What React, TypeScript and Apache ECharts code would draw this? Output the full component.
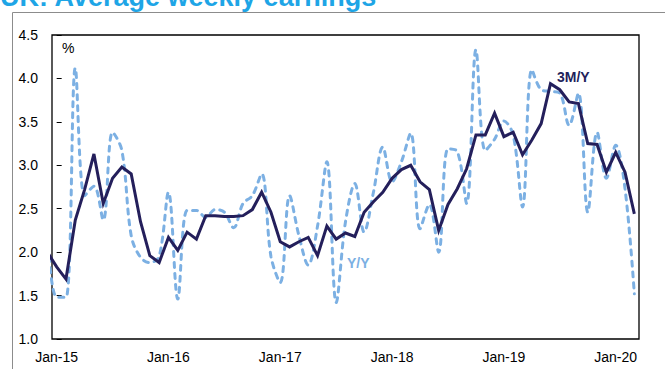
import React, { useEffect, useRef } from "react";
import * as echarts from "echarts";

// Month index: 0 = Jan-15, -1 = Dec-14, 62 = Mar-20
const startMonth = -1;
const threeMonthYoY = [
  2.0, 1.83, 1.69, 2.37, 2.72, 3.13, 2.56, 2.85, 2.98, 2.9, 2.35, 1.96, 1.88,
  2.17, 2.02, 2.23, 2.15, 2.42, 2.42, 2.41, 2.41, 2.42, 2.49, 2.69, 2.46, 2.12,
  2.06, 2.12, 2.17, 1.96, 2.3, 2.15, 2.22, 2.18, 2.46, 2.58, 2.69, 2.85, 2.95,
  3.0, 2.81, 2.72, 2.25, 2.55, 2.73, 2.96, 3.35, 3.35, 3.6, 3.33, 3.38, 3.12,
  3.29, 3.48, 3.94, 3.87, 3.73, 3.71, 3.25, 3.24, 2.92, 3.15, 2.92, 2.44,
];
const yoy = [
  2.2, 1.48, 1.48, 4.12, 2.65, 2.76, 2.37, 3.38, 3.17, 2.19, 1.94, 1.88, 1.95,
  2.69, 1.46, 2.48, 2.48, 2.4, 2.49, 2.46, 2.28, 2.56, 2.65, 2.9, 1.95, 1.65,
  2.65, 2.19, 1.85, 2.3, 3.04, 1.42, 2.35, 2.79, 2.23, 2.69, 3.21, 2.81, 3.04,
  3.37, 2.27, 2.55, 2.0, 3.19, 3.16, 2.56, 4.33, 3.17, 3.3, 3.51, 3.35, 2.52,
  4.1, 3.87, 3.85, 3.83, 3.46, 3.83, 2.46, 3.38, 2.85, 3.23, 2.73, 1.52,
];
const xTickMonths = [0, 12, 24, 36, 48, 60];
const xTickLabels = ["Jan-15", "Jan-16", "Jan-17", "Jan-18", "Jan-19", "Jan-20"];

const FONT = "'Liberation Sans', Arial, sans-serif";
const NAVY = "#241f5b";
const LIGHT = "#7cb0e3";

export default function App() {
  const ref = useRef<HTMLDivElement>(null);
  useEffect(() => {
    if (!ref.current) return;
    const chart = echarts.init(ref.current, null, { renderer: "svg" });
    const toPairs = (arr: number[]) => arr.map((v, i) => [startMonth + i, v]);
    chart.setOption({
      animation: false,
      backgroundColor: "#fff",
      grid: {
        left: 52,
        top: 35,
        right: 26,
        bottom: 30,
        show: true,
        borderColor: "#000",
        borderWidth: 1.3,
        backgroundColor: "transparent",
      },
      xAxis: {
        type: "value",
        min: -0.5,
        max: 62.5,
        axisLine: { show: false },
        axisTick: { show: false },
        splitLine: { show: false },
        axisLabel: {
          customValues: xTickMonths,
          formatter: (v: number) => {
            const i = xTickMonths.indexOf(Math.round(v));
            return i >= 0 ? xTickLabels[i] : "";
          },
          fontFamily: FONT,
          fontSize: 14,
          color: "#000",
          margin: 11,
        },
      },
      yAxis: {
        type: "value",
        min: 1,
        max: 4.5,
        interval: 0.5,
        axisLine: { show: false },
        axisTick: { show: true, inside: true, length: 5, lineStyle: { color: "#000", width: 1 } },
        splitLine: { show: false },
        axisLabel: {
          formatter: (v: number) => v.toFixed(1),
          fontFamily: FONT,
          fontSize: 14,
          color: "#000",
          margin: 14,
        },
      },
      series: [
        {
          name: "Y/Y",
          type: "line",
          data: toPairs(yoy),
          smooth: 0.35,
          showSymbol: false,
          symbol: "none",
          lineStyle: { color: LIGHT, width: 3, type: [5, 6], cap: "round" },
          z: 2,
        },
        {
          name: "3M/Y",
          type: "line",
          data: toPairs(threeMonthYoY),
          showSymbol: false,
          symbol: "none",
          lineStyle: { color: NAVY, width: 3, join: "miter" },
          z: 3,
        },
      ],
      graphic: [
        {
          type: "rect",
          shape: { x: 12.5, y: 12.5, width: 800, height: 500 },
          style: { fill: "none", stroke: "#8c8c8c", lineWidth: 1 },
          silent: true,
          z: -1,
        },
        {
          type: "text",
          x: 0,
          y: -17,
          style: {
            text: "UK: Average weekly earnings",
            fontFamily: FONT,
            fontSize: 27,
            fontWeight: "bold",
            fill: "#1ea5e6",
          },
        },
        {
          type: "text",
          x: 62,
          y: 41,
          style: { text: "%", fontFamily: FONT, fontSize: 14, fill: "#000" },
        },
        {
          type: "text",
          x: 347,
          y: 256,
          style: { text: "Y/Y", fontFamily: FONT, fontSize: 14, fill: LIGHT, fontWeight: "bold" },
        },
        {
          type: "text",
          x: 557,
          y: 70,
          style: { text: "3M/Y", fontFamily: FONT, fontSize: 14, fill: NAVY, fontWeight: "bold" },
        },
      ],
    });
    return () => chart.dispose();
  }, []);
  return (
    <div
      ref={ref}
      style={{ position: "absolute", left: 0, top: 0, width: 665, height: 369 }}
    />
  );
}
